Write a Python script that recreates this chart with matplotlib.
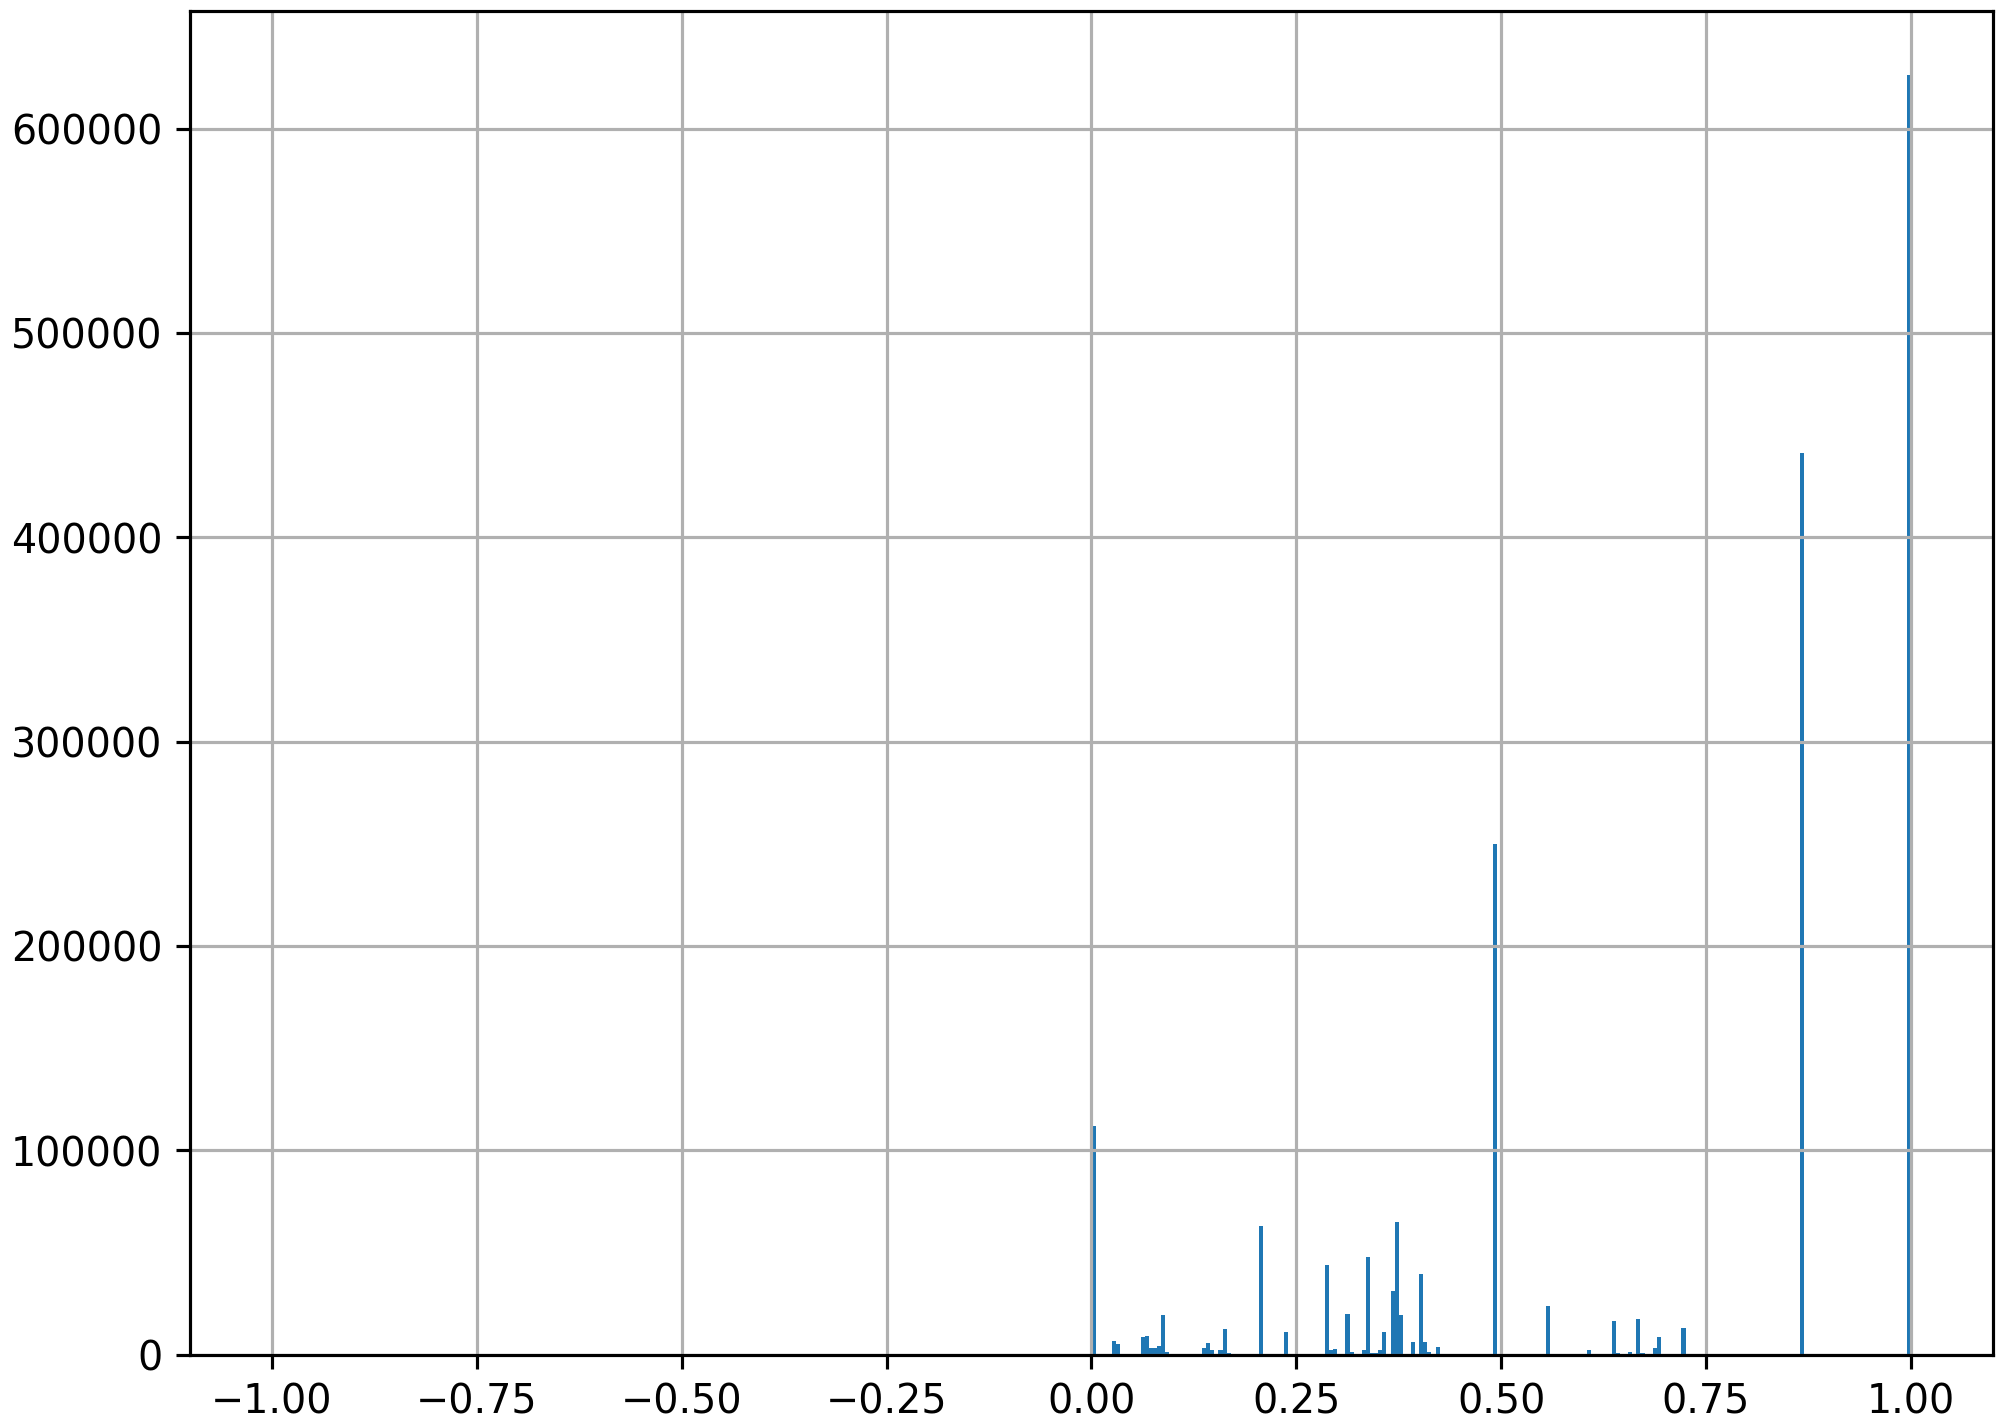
import numpy as np
import matplotlib
matplotlib.use("Agg")
import matplotlib.pyplot as plt

# histogram: 400 equal bins on [-1, 1], only the non-empty bins listed
bin_edges = np.linspace(-1.0, 1.0, 401)

# left edge of each non-empty bin
bin_left = [0.000, 0.025, 0.030,
            0.060, 0.065, 0.070, 0.075, 0.080, 0.085, 0.090, 0.095, 0.105,
            0.135, 0.140, 0.145, 0.155, 0.160, 0.165,
            0.205, 0.235,
            0.285, 0.290, 0.295, 0.310, 0.315, 0.330, 0.335, 0.340,
            0.345, 0.350, 0.355, 0.365, 0.370, 0.375, 0.390, 0.400,
            0.405, 0.410, 0.420,
            0.490, 0.555, 0.590, 0.605, 0.635, 0.640, 0.655, 0.665, 0.670,
            0.680, 0.685, 0.690, 0.720, 0.725,
            0.865, 0.915, 0.920, 0.995]

counts = [112000, 6800, 5000,
          8600, 9100, 3000, 3000, 4000, 19600, 1300, 500, 500,
          3300, 5700, 2000, 2000, 12400, 1000,
          63100, 10900,
          43700, 2000, 2500, 20000, 1500, 2000, 48000, 1000,
          800, 2000, 10900, 31300, 64800, 19200, 6000, 39500,
          6000, 1500, 3500,
          249700, 23700, 500, 2100, 16300, 1000, 1200, 17600, 700,
          500, 3300, 8500, 13000, 500,
          441300, 500, 500, 626100]

fig = plt.figure(figsize=(2000.4 / 285, 1428.4 / 285), dpi=285)
ax = fig.add_axes([0.095, 0.0514, 0.9012, 0.9404])

centers = np.array(bin_left) + 0.0025
ax.hist(centers, bins=bin_edges, weights=counts, color="#1f77b4")
ax.grid(True)

fig.savefig("out.png", dpi=285)
